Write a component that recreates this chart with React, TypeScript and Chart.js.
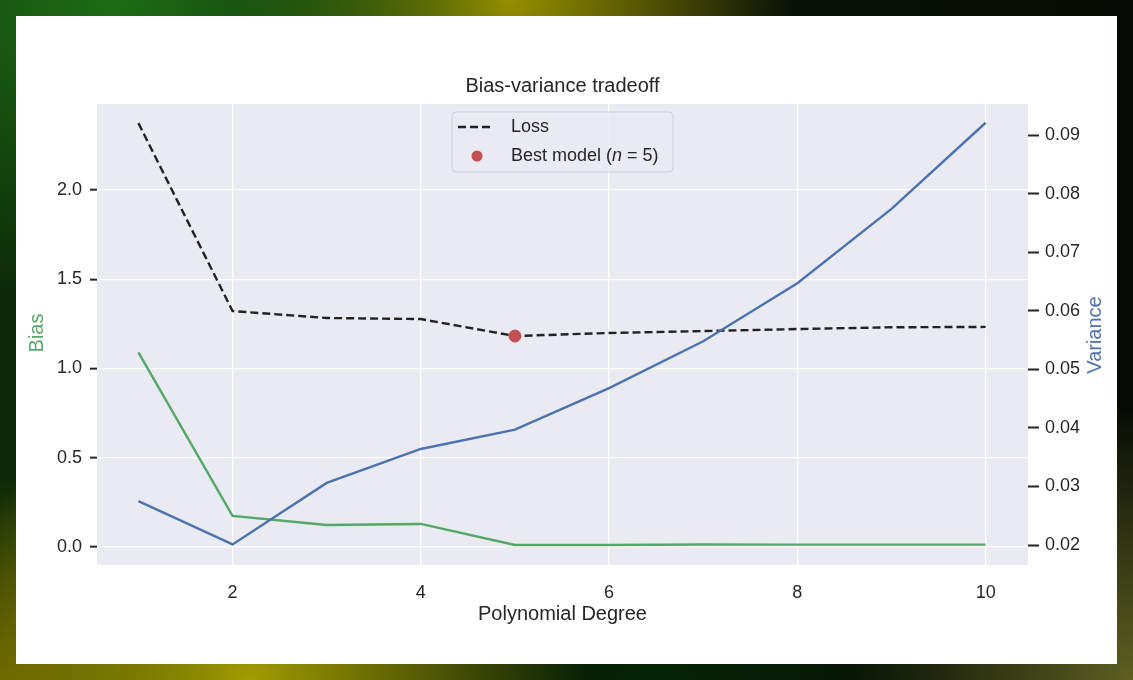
import React, { useEffect, useRef } from "react";
import { Chart, registerables } from "chart.js";

Chart.register(...registerables);

const degrees = [1, 2, 3, 4, 5, 6, 7, 8, 9, 10];
const lossValues = [2.375, 1.322, 1.283, 1.277, 1.182, 1.199, 1.21, 1.221, 1.231, 1.233];
const biasValues = [1.09, 0.174, 0.123, 0.129, 0.011, 0.011, 0.014, 0.013, 0.013, 0.013];
const varianceValues = [0.0275, 0.0201, 0.0306, 0.0364, 0.0397, 0.0468, 0.0548, 0.0647, 0.0774, 0.0921];
const bestDegree = 5;
const xTicks = [2, 4, 6, 8, 10];
const biasTicks = [0, 0.5, 1.0, 1.5, 2.0];
const varianceTicks = [0.02, 0.03, 0.04, 0.05, 0.06, 0.07, 0.08, 0.09];

const TITLE = "Bias-variance tradeoff";
const X_LABEL = "Polynomial Degree";
const Y_LABEL = "Bias";
const Y2_LABEL = "Variance";

const GREEN = "#55a868";
const BLUE = "#4c72b0";
const RED = "#c44e52";
const TEXT = "#262626";
const FONT = "'Liberation Sans', Arial, sans-serif";

const W = 1101;
const H = 648;

export default function App() {
  const ref = useRef<HTMLCanvasElement | null>(null);

  useEffect(() => {
    if (!ref.current) return;
    const bgPlugin = {
      id: "bg",
      beforeDraw(chart: any) {
        const { ctx, chartArea: a } = chart;
        ctx.save();
        ctx.fillStyle = "#eaeaf2";
        ctx.fillRect(a.left, a.top, a.right - a.left, a.bottom - a.top);
        ctx.restore();
      },
    };
    const decoPlugin = {
      id: "deco",
      afterDraw(chart: any) {
        const { ctx, chartArea: a } = chart;
        ctx.save();
        ctx.fillStyle = TEXT;
        ctx.textAlign = "center";
        ctx.textBaseline = "middle";
        ctx.font = `20px ${FONT}`;
        ctx.fillText(TITLE, (a.left + a.right) / 2, 70);
        ctx.font = `20px ${FONT}`;
        ctx.fillText(X_LABEL, (a.left + a.right) / 2, 598);
        ctx.save();
        ctx.translate(21, 317);
        ctx.rotate(-Math.PI / 2);
        ctx.fillStyle = GREEN;
        ctx.fillText(Y_LABEL, 0, 0);
        ctx.restore();
        ctx.save();
        ctx.translate(1079, 319);
        ctx.rotate(-Math.PI / 2);
        ctx.fillStyle = BLUE;
        ctx.fillText(Y2_LABEL, 0, 0);
        ctx.restore();
        // legend box
        const bx = 436, by = 96, bw = 221, bh = 60, r = 4;
        ctx.beginPath();
        ctx.moveTo(bx + r, by);
        ctx.arcTo(bx + bw, by, bx + bw, by + bh, r);
        ctx.arcTo(bx + bw, by + bh, bx, by + bh, r);
        ctx.arcTo(bx, by + bh, bx, by, r);
        ctx.arcTo(bx, by, bx + bw, by, r);
        ctx.closePath();
        ctx.fillStyle = "rgba(234,234,242,0.85)";
        ctx.fill();
        ctx.strokeStyle = "#cfcfd6";
        ctx.lineWidth = 1;
        ctx.stroke();
        ctx.beginPath();
        ctx.setLineDash([8, 4]);
        ctx.strokeStyle = "#222222";
        ctx.lineWidth = 2.4;
        ctx.moveTo(442, 111);
        ctx.lineTo(478, 111);
        ctx.stroke();
        ctx.setLineDash([]);
        ctx.fillStyle = TEXT;
        ctx.textAlign = "left";
        ctx.font = `18px ${FONT}`;
        ctx.fillText("Loss", 495, 111);
        ctx.beginPath();
        ctx.arc(461, 140, 5.5, 0, Math.PI * 2);
        ctx.fillStyle = RED;
        ctx.fill();
        ctx.fillStyle = TEXT;
        let tx = 495;
        const parts: [string, boolean][] = [["Best model (", false], ["n", true], [" = " + bestDegree + ")", false]];
        for (const [t, it] of parts) {
          ctx.font = `${it ? "italic " : ""}18px ${FONT}`;
          ctx.fillText(t, tx, 140);
          tx += ctx.measureText(t).width;
        }
        ctx.restore();
      },
    };

    const chart = new Chart(ref.current, {
      type: "line",
      data: {
        datasets: [
          {
            label: "Variance",
            data: degrees.map((d, i) => ({ x: d, y: varianceValues[i] })),
            yAxisID: "y1",
            borderColor: BLUE,
            borderWidth: 2.4,
            pointRadius: 0,
            order: 0,
          },
          {
            label: "Best model",
            type: "scatter",
            data: [{ x: bestDegree, y: lossValues[degrees.indexOf(bestDegree)] }],
            yAxisID: "y",
            backgroundColor: RED,
            borderColor: RED,
            pointRadius: 6,
            order: 1,
          },
          {
            label: "Loss",
            data: degrees.map((d, i) => ({ x: d, y: lossValues[i] })),
            yAxisID: "y",
            borderColor: "#222222",
            borderDash: [8, 4],
            borderWidth: 2.4,
            pointRadius: 0,
            order: 2,
          },
          {
            label: "Bias",
            data: degrees.map((d, i) => ({ x: d, y: biasValues[i] })),
            yAxisID: "y",
            borderColor: GREEN,
            borderWidth: 2.4,
            pointRadius: 0,
            order: 3,
          },
        ] as any,
      },
      options: {
        responsive: false,
        animation: false,
        layout: { padding: { top: 88, left: 0, right: 0, bottom: 0 } },
        plugins: { legend: { display: false }, tooltip: { enabled: false }, title: { display: false } },
        scales: {
          x: {
            type: "linear",
            min: 0.56,
            max: 10.45,
            afterBuildTicks: (s: any) => { s.ticks = xTicks.map((v) => ({ value: v })); },
            afterFit: (s: any) => { s.height = H - 549; },
            ticks: { color: TEXT, font: { size: 18, family: FONT }, padding: 17, callback: (v: any) => String(v) },
            grid: { color: "#ffffff", lineWidth: 1.3, drawTicks: false },
            border: { display: false },
          },
          y: {
            type: "linear",
            position: "left",
            min: -0.101,
            max: 2.482,
            afterBuildTicks: (s: any) => { s.ticks = biasTicks.map((v) => ({ value: v })); },
            afterFit: (s: any) => { s.width = 81; },
            ticks: { color: TEXT, font: { size: 18, family: FONT }, padding: 8, callback: (v: any) => Number(v).toFixed(1) },
            grid: { color: "#ffffff", lineWidth: 1.3, drawTicks: true, tickLength: 7, tickColor: TEXT, tickWidth: 2 } as any,
            border: { display: false },
          },
          y1: {
            type: "linear",
            position: "right",
            min: 0.01659,
            max: 0.0953,
            afterBuildTicks: (s: any) => { s.ticks = varianceTicks.map((v) => ({ value: v })); },
            afterFit: (s: any) => { s.width = W - 1012; },
            ticks: { color: TEXT, font: { size: 18, family: FONT }, padding: 6, callback: (v: any) => Number(v).toFixed(2) },
            grid: { drawOnChartArea: false, drawTicks: true, tickLength: 11, color: TEXT, tickColor: TEXT, tickWidth: 2 } as any,
            border: { display: false },
          },
        },
      } as any,
      plugins: [bgPlugin, decoPlugin],
    });
    return () => chart.destroy();
  }, []);

  return (
    <div
      style={{
        position: "fixed",
        left: 0,
        top: 0,
        width: 1133,
        height: 680,
        overflow: "hidden",
        background: [
          "radial-gradient(ellipse 35% 45% at 10% 0%, #1d6c14 0%, rgba(29,108,20,0) 100%)",
          "radial-gradient(ellipse 25% 35% at 45% 0%, #978f00 0%, rgba(151,143,0,0) 100%)",
          "radial-gradient(ellipse 30% 40% at 22% 100%, #a29b00 0%, rgba(162,155,0,0) 100%)",
          "radial-gradient(ellipse 20% 30% at 0% 100%, #5e5800 0%, rgba(94,88,0,0) 100%)",
          "radial-gradient(ellipse 25% 40% at 100% 100%, #5d6020 0%, rgba(93,96,32,0) 100%)",
          "radial-gradient(ellipse 25% 40% at 58% 100%, #052505 0%, rgba(5,37,5,0) 100%)",
          "linear-gradient(to right, #0c2a08 0%, #0a1508 50%, #070b05 100%)",
        ].join(","),
      }}
    >
      <div style={{ position: "absolute", left: 16, top: 16, width: W, height: H, background: "#ffffff" }}>
        <canvas ref={ref} width={W} height={H} style={{ display: "block" }} />
      </div>
    </div>
  );
}
